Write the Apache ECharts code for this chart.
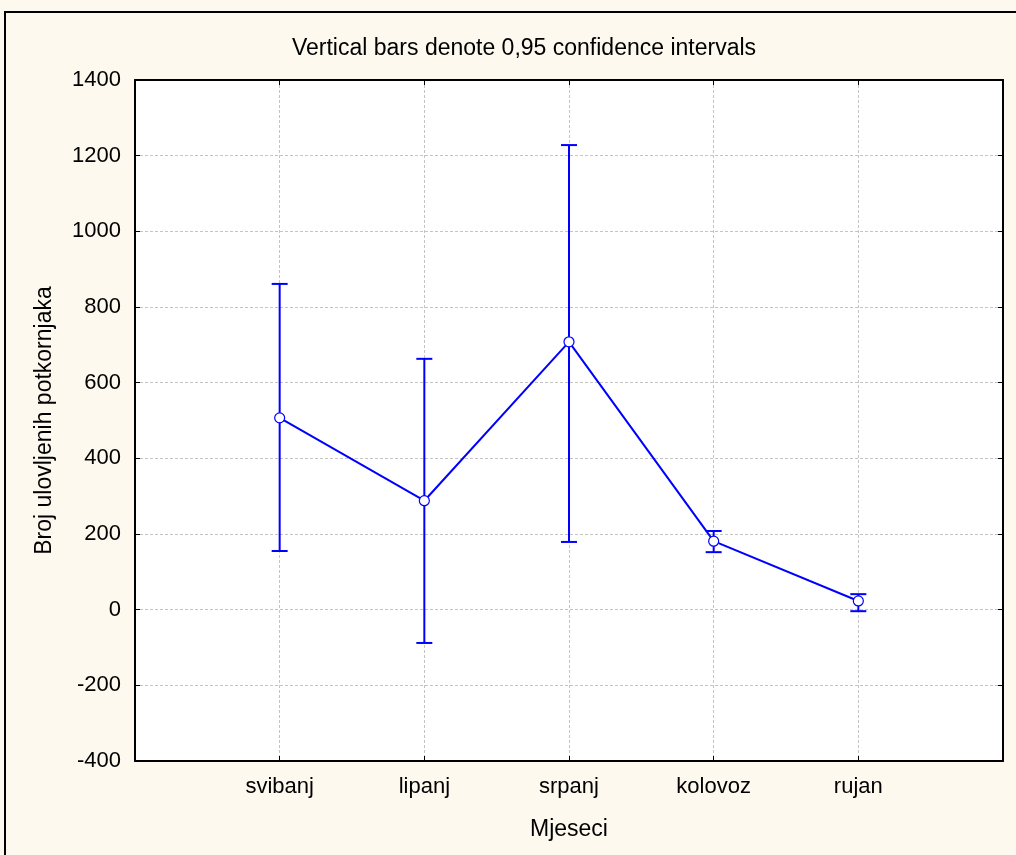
<!DOCTYPE html>
<html>
<head>
<meta charset="utf-8">
<script src="https://cdn.jsdelivr.net/npm/echarts@6/dist/echarts.min.js"></script>
<style>
  html, body { margin: 0; padding: 0; background: #fdf9ef; }
  #chart { width: 1016px; height: 855px; }
</style>
</head>
<body>
<div id="chart"></div>
<script>
// mjeseci i vrijednosti
const months = ["svibanj", "lipanj", "srpanj", "kolovoz", "rujan"];
const means = [507, 288, 708, 181, 23];
const lower = [155, -88, 179, 152, -4];
const upper = [861, 663, 1228, 208, 41];
const yTicks = { min: -400, max: 1400, interval: 200 };

const chart = echarts.init(document.getElementById("chart"));
const font = "Arial, 'Liberation Sans', sans-serif";
const blue = "#0000ff";
const grid = "#c4c4c4";

const meanData = means.map((v, i) => [i + 1, v]);
const errData = months.map((m, i) => [i + 1, lower[i], upper[i]]);

// error bar with caps
const renderErr = (params, api) => {
  const x = api.value(0);
  const lo = api.coord([x, api.value(1)]);
  const hi = api.coord([x, api.value(2)]);
  const w = 8;
  const style = { stroke: blue, lineWidth: 2 };
  return {
    type: "group",
    children: [
      { type: "line", shape: { x1: lo[0], y1: lo[1], x2: hi[0], y2: hi[1] }, style },
      { type: "line", shape: { x1: hi[0] - w, y1: hi[1], x2: hi[0] + w, y2: hi[1] }, style },
      { type: "line", shape: { x1: lo[0] - w, y1: lo[1], x2: lo[0] + w, y2: lo[1] }, style },
    ],
  };
};

const frameAxis = {
  axisLine: { show: true, onZero: false, lineStyle: { color: "#000", width: 2 } },
  axisTick: { show: true, inside: true, length: 5, lineStyle: { color: "#000" } },
  axisLabel: { show: false },
  splitLine: { show: false },
};

chart.setOption({
  backgroundColor: "#fdf9ef",
  animation: false,
  textStyle: { fontFamily: font },
  title: {
    text: "Vertical bars denote 0,95 confidence intervals",
    left: 519,
    textAlign: "center",
    top: 32,
    textStyle: { fontFamily: font, fontSize: 23, fontWeight: "normal", color: "#000" },
  },
  graphic: [
    {
      type: "rect",
      shape: { x: 5, y: 12, width: 1040, height: 880 },
      style: { fill: null, stroke: "#000", lineWidth: 2 },
      z: -1,
    },
  ],
  grid: { left: 135, right: 13, top: 80, bottom: 94, backgroundColor: "#fff", show: true, borderWidth: 0 },
  xAxis: [
    {
      type: "value",
      min: 0,
      max: 6,
      interval: 1,
      name: "Mjeseci",
      nameLocation: "middle",
      nameGap: 57,
      nameTextStyle: { fontSize: 23, color: "#000", fontFamily: font },
      axisLine: { onZero: false, lineStyle: { color: "#000", width: 2 } },
      axisTick: { inside: true, length: 5, lineStyle: { color: "#000" } },
      axisLabel: {
        fontSize: 22,
        color: "#000",
        margin: 15,
        formatter: (v) => months[v - 1] || "",
      },
      splitLine: { show: true, lineStyle: { color: grid, type: [3, 2], width: 1 } },
    },
    Object.assign({ type: "value", position: "top", min: 0, max: 6, interval: 1 }, frameAxis),
  ],
  yAxis: [
    {
      type: "value",
      min: yTicks.min,
      max: yTicks.max,
      interval: yTicks.interval,
      name: "Broj ulovljenih potkornjaka",
      nameLocation: "middle",
      nameGap: 79,
      nameTextStyle: { fontSize: 23, color: "#000", fontFamily: font },
      axisLine: { show: true, onZero: false, lineStyle: { color: "#000", width: 2 } },
      axisTick: { show: true, inside: true, length: 5, lineStyle: { color: "#000" } },
      axisLabel: { fontSize: 22, color: "#000", margin: 14, formatter: (v) => String(v) },
      splitLine: { show: true, lineStyle: { color: grid, type: [3, 2], width: 1 } },
    },
    Object.assign(
      { type: "value", position: "right", min: yTicks.min, max: yTicks.max, interval: yTicks.interval },
      frameAxis
    ),
  ],
  series: [
    {
      type: "custom",
      renderItem: renderErr,
      data: errData,
      encode: { x: 0, y: [1, 2] },
      z: 2,
    },
    {
      type: "line",
      data: meanData,
      symbol: "circle",
      symbolSize: 10,
      lineStyle: { color: blue, width: 2 },
      itemStyle: { color: "#fff", borderColor: blue, borderWidth: 1.2 },
      z: 3,
    },
  ],
});
</script>
</body>
</html>
